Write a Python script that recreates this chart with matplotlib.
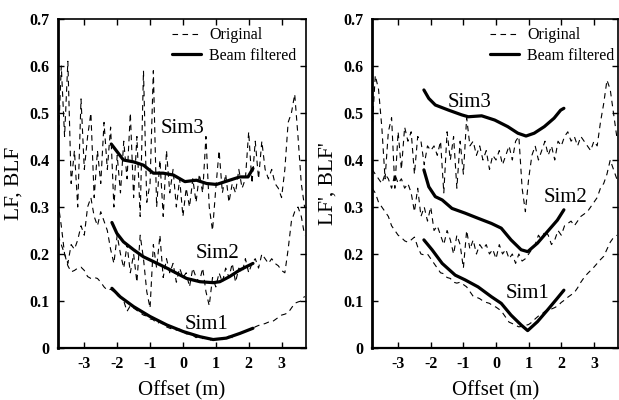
import numpy as np
import matplotlib
matplotlib.use("Agg")
import matplotlib.pyplot as plt

plt.rcParams['font.family'] = ['Liberation Serif', 'DejaVu Serif']

# offset grid of the original (unfiltered) curves, -3.8 .. 3.7 m
offset = np.round(np.arange(-3.8, 3.75, 0.1), 1)

# ---- left panel: LF (original) ----
lf_sim1 = [0.24, 0.22, 0.20, 0.175, 0.162, 0.165, 0.17, 0.172, 0.165, 0.152,
           0.148, 0.15, 0.148, 0.14, 0.13, 0.123, 0.125, 0.12, 0.112, 0.108,
           0.10, 0.078, 0.09, 0.085, 0.08, 0.075, 0.07, 0.068, 0.062, 0.06,
           0.052, 0.055, 0.05, 0.045, 0.042, 0.04, 0.038, 0.04, 0.035, 0.03,
           0.03, 0.027, 0.022, 0.025, 0.02, 0.022, 0.015, 0.02, 0.015, 0.02,
           0.018, 0.022, 0.025, 0.022, 0.028, 0.03, 0.032, 0.035, 0.038, 0.04,
           0.045, 0.048, 0.05, 0.052, 0.055, 0.055, 0.06, 0.065, 0.07, 0.072,
           0.075, 0.085, 0.095, 0.098, 0.10, 0.11]
lf_sim2 = [0.31, 0.26, 0.20, 0.18, 0.22, 0.21, 0.23, 0.26, 0.24, 0.30,
           0.32, 0.28, 0.26, 0.29, 0.27, 0.25, 0.21, 0.18, 0.24, 0.20,
           0.17, 0.22, 0.16, 0.20, 0.14, 0.24, 0.19, 0.12, 0.085, 0.22,
           0.17, 0.24, 0.15, 0.19, 0.16, 0.18, 0.14, 0.17, 0.15, 0.16,
           0.13, 0.17, 0.15, 0.14, 0.17, 0.12, 0.09, 0.15, 0.13, 0.16,
           0.14, 0.17, 0.15, 0.18, 0.14, 0.17, 0.16, 0.19, 0.16, 0.18,
           0.19, 0.17, 0.20, 0.19, 0.18, 0.19, 0.18, 0.175, 0.165, 0.16,
           0.21, 0.27, 0.29, 0.30, 0.28, 0.24]
lf_sim3 = [0.42, 0.60, 0.45, 0.61, 0.35, 0.42, 0.30, 0.53, 0.38, 0.45,
           0.50, 0.32, 0.42, 0.35, 0.48, 0.38, 0.47, 0.30, 0.41, 0.33,
           0.44, 0.36, 0.50, 0.32, 0.45, 0.28, 0.59, 0.31, 0.35, 0.59,
           0.30, 0.40, 0.28, 0.42, 0.33, 0.38, 0.30, 0.36, 0.28, 0.34,
           0.30, 0.36, 0.31, 0.37, 0.33, 0.45, 0.30, 0.25, 0.34, 0.42,
           0.33, 0.37, 0.31, 0.35, 0.33, 0.38, 0.34, 0.36, 0.46, 0.35,
           0.44, 0.36, 0.44, 0.38, 0.36, 0.38, 0.35, 0.34, 0.32, 0.38,
           0.48, 0.50, 0.54, 0.45, 0.35, 0.30]

# left panel: BLF (beam filtered)
blf1_x = [-2.16, -1.91, -1.5, -1.0, -0.49, 0.01, 0.52, 0.92, 1.32, 1.73, 2.13]
blf1_y = [0.127, 0.109, 0.088, 0.067, 0.049, 0.035, 0.024, 0.018, 0.021, 0.031, 0.042]
blf2_x = [-2.16, -2.01, -1.81, -1.5, -1.2, -0.9, -0.49, -0.19, 0.11, 0.52, 0.92, 1.12, 1.42, 1.73, 2.13]
blf2_y = [0.267, 0.244, 0.226, 0.209, 0.194, 0.184, 0.17, 0.159, 0.148, 0.141, 0.139, 0.141, 0.152, 0.166, 0.18]
blf3_x = [-2.18, -1.81, -1.5, -1.2, -0.9, -0.6, -0.29, 0.06, 0.41, 0.72, 1.02, 1.42, 1.73, 1.98, 2.13]
blf3_y = [0.434, 0.40, 0.396, 0.389, 0.372, 0.372, 0.368, 0.354, 0.357, 0.35, 0.348, 0.357, 0.364, 0.364, 0.382]

# ---- right panel: LF' (original) ----
lfp_sim1 = [0.34, 0.33, 0.31, 0.30, 0.29, 0.28, 0.26, 0.25, 0.24, 0.235,
            0.228, 0.225, 0.23, 0.236, 0.215, 0.20, 0.198, 0.20, 0.19, 0.18,
            0.17, 0.16, 0.158, 0.15, 0.148, 0.14, 0.138, 0.14, 0.135, 0.13,
            0.12, 0.11, 0.108, 0.105, 0.10, 0.097, 0.095, 0.09, 0.087, 0.082,
            0.075, 0.065, 0.055, 0.052, 0.048, 0.045, 0.046, 0.048, 0.05, 0.055,
            0.062, 0.068, 0.072, 0.078, 0.08, 0.083, 0.086, 0.09, 0.097, 0.102,
            0.108, 0.113, 0.118, 0.128, 0.14, 0.15, 0.158, 0.165, 0.172, 0.18,
            0.188, 0.195, 0.21, 0.225, 0.235, 0.24]
lfp_sim2 = [0.38, 0.37, 0.36, 0.35, 0.37, 0.36, 0.34, 0.37, 0.35, 0.36,
            0.34, 0.35, 0.33, 0.29, 0.34, 0.28, 0.30, 0.27, 0.30, 0.25,
            0.26, 0.24, 0.22, 0.25, 0.23, 0.20, 0.24, 0.22, 0.17, 0.25,
            0.21, 0.23, 0.20, 0.22, 0.21, 0.22, 0.20, 0.21, 0.19, 0.22,
            0.20, 0.21, 0.19, 0.20, 0.18, 0.20, 0.185, 0.19, 0.20, 0.21,
            0.22, 0.24, 0.23, 0.25, 0.24, 0.22, 0.23, 0.25, 0.24, 0.26,
            0.265, 0.27, 0.26, 0.27, 0.28, 0.285, 0.29, 0.30, 0.31, 0.32,
            0.34, 0.35, 0.37, 0.40, 0.38, 0.36]
lfp_sim3 = [0.46, 0.58, 0.55, 0.47, 0.36, 0.46, 0.49, 0.34, 0.46, 0.38,
            0.47, 0.44, 0.46, 0.37, 0.45, 0.44, 0.39, 0.43, 0.42, 0.43,
            0.41, 0.44, 0.33, 0.46, 0.40, 0.45, 0.34, 0.44, 0.37, 0.49,
            0.43, 0.44, 0.41, 0.43, 0.40, 0.42, 0.38, 0.41, 0.40, 0.42,
            0.39, 0.41, 0.43, 0.40, 0.44, 0.45, 0.34, 0.29, 0.36, 0.41,
            0.43, 0.40, 0.42, 0.44, 0.41, 0.43, 0.40, 0.44, 0.43, 0.45,
            0.46, 0.44, 0.45, 0.43, 0.45, 0.44, 0.43, 0.42, 0.44, 0.43,
            0.48, 0.52, 0.57, 0.55, 0.50, 0.45]

# right panel: BLF' (beam filtered)
blfp1_x = [-2.21, -1.96, -1.65, -1.25, -0.95, -0.55, -0.14, 0.16, 0.46, 0.77, 0.97, 1.27, 1.58, 1.88, 2.08]
blfp1_y = [0.23, 0.209, 0.18, 0.155, 0.145, 0.13, 0.109, 0.095, 0.07, 0.049, 0.037, 0.056, 0.081, 0.106, 0.123]
blfp2_x = [-2.21, -2.06, -1.86, -1.65, -1.35, -0.95, -0.55, -0.14, 0.16, 0.46, 0.77, 0.97, 1.27, 1.58, 1.88, 2.08]
blfp2_y = [0.379, 0.343, 0.322, 0.315, 0.297, 0.287, 0.276, 0.265, 0.255, 0.23, 0.209, 0.205, 0.223, 0.248, 0.272, 0.294]
blfp3_x = [-2.21, -2.06, -1.86, -1.45, -1.05, -0.85, -0.44, -0.04, 0.36, 0.67, 0.92, 1.17, 1.48, 1.78, 1.98, 2.08]
blfp3_y = [0.549, 0.531, 0.517, 0.506, 0.496, 0.492, 0.494, 0.485, 0.471, 0.457, 0.451, 0.457, 0.471, 0.489, 0.506, 0.51]

xticks = [-3, -2, -1, 0, 1, 2, 3]
yticks = [0, 0.1, 0.2, 0.3, 0.4, 0.5, 0.6, 0.7]
ytick_labels = ['0', '0.1', '0.2', '0.3', '0.4', '0.5', '0.6', '0.7']

fig = plt.figure(figsize=(6.19, 4.0), dpi=100)
ax1 = fig.add_axes([0.0937, 0.13, 0.401, 0.8225])
ax2 = fig.add_axes([0.601, 0.13, 0.398, 0.8225])


def draw_panel(ax, orig, filt, labels, label_pos, ylabel, leg_x):
    dash = (0, (5, 4))
    for k, y in enumerate(orig):
        ax.plot(offset, y, color='black', lw=0.8, ls=dash,
                label='Original' if k == 0 else None)
    for k, (fx, fy) in enumerate(filt):
        ax.plot(fx, fy, color='black', lw=2.3, solid_capstyle='round',
                solid_joinstyle='round',
                label='Beam filtered' if k == 0 else None)
    for txt, (tx, ty) in zip(labels, label_pos):
        ax.text(tx, ty, txt, fontsize=15, ha='center', va='center')

    ax.set_xlim(-3.8, 3.75)
    ax.set_ylim(0, 0.7)
    ax.set_xticks(xticks)
    ax.set_xticklabels([str(t) for t in xticks])
    ax.set_yticks(yticks)
    ax.set_yticklabels(ytick_labels)
    ax.tick_params(direction='in', top=True, right=True, length=4,
                   width=1, labelsize=11.5, pad=6)
    for lab in ax.get_xticklabels() + ax.get_yticklabels():
        lab.set_fontweight('bold')
    for sp in ax.spines.values():
        sp.set_linewidth(1.2)
    ax.spines['left'].set_linewidth(2)
    ax.spines['bottom'].set_linewidth(1.6)
    ax.set_xlabel('Offset (m)', fontsize=15, labelpad=6)
    ax.set_ylabel(ylabel, fontsize=15.5, labelpad=4)
    ax.legend(loc='upper left', bbox_to_anchor=(leg_x, 0.975), frameon=False,
              fontsize=11.5, handlelength=1.8, handletextpad=0.5,
              labelspacing=0.3, borderpad=0, borderaxespad=0)


draw_panel(ax1, [lf_sim1, lf_sim2, lf_sim3],
           [(blf1_x, blf1_y), (blf2_x, blf2_y), (blf3_x, blf3_y)],
           ['Sim1', 'Sim2', 'Sim3'],
           [(0.73, 0.05), (1.06, 0.2), (0.0, 0.468)],
           'LF, BLF', 0.46)
draw_panel(ax2, [lfp_sim1, lfp_sim2, lfp_sim3],
           [(blfp1_x, blfp1_y), (blfp2_x, blfp2_y), (blfp3_x, blfp3_y)],
           ['Sim1', 'Sim2', 'Sim3'],
           [(0.97, 0.117), (2.12, 0.32), (-0.82, 0.523)],
           "LF', BLF'", 0.48)

fig.savefig('out.png', dpi=100)
